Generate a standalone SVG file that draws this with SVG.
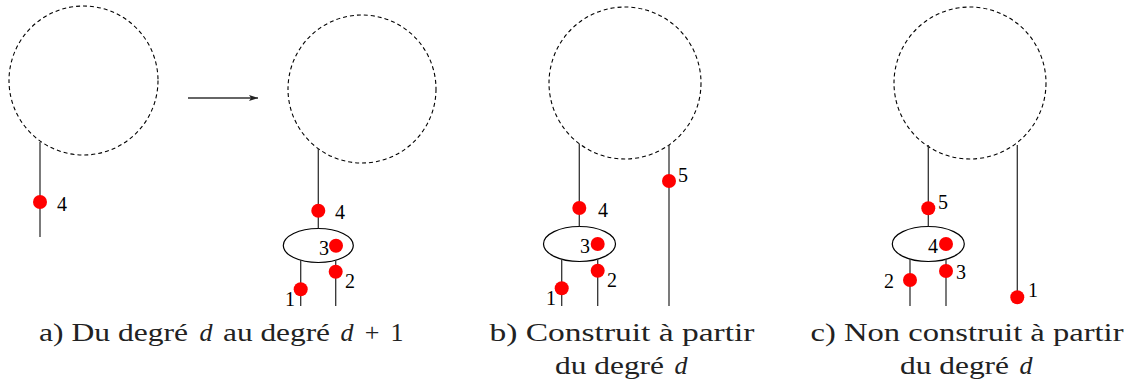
<svg xmlns="http://www.w3.org/2000/svg" width="1132" height="385" viewBox="0 0 1132 385">
<style>
.bound{fill:none;stroke:#000;stroke-width:1.1;stroke-dasharray:4 3}
.wire{fill:none;stroke:#333;stroke-width:1.3}
.node{fill:none;stroke:#000;stroke-width:1.2}
.dot{fill:#ff0000}
.num{font-family:'Liberation Serif','Times New Roman',serif;font-size:20px;fill:#000}
.cap{font-family:'Liberation Serif','Times New Roman',serif;font-size:26px;fill:#222}
.it{font-style:italic}
.mid{text-anchor:middle}
</style>
<defs>
<marker id="ah" markerWidth="10" markerHeight="8" refX="9" refY="4" orient="auto" markerUnits="userSpaceOnUse">
<path d="M0,1 L9,4 L0,7 L2,4 Z" fill="#222"/>
</marker>
</defs>
<rect width="1132" height="385" fill="#fff"/>

<g id="panel-a-left">
<circle class="bound" cx="83.5" cy="80.5" r="74.5"/>
</g>
<g id="panel-a-right">
<circle class="bound" cx="362" cy="89" r="74"/>
<ellipse class="node" cx="318.3" cy="245.5" rx="35" ry="17"/>
</g>
<g id="panel-b">
<circle class="bound" cx="625" cy="83" r="76"/>
<ellipse class="node" cx="579.5" cy="244" rx="36" ry="17.5"/>
</g>
<g id="panel-c">
<circle class="bound" cx="970" cy="83" r="76"/>
<ellipse class="node" cx="928.3" cy="244" rx="36" ry="17.5"/>
</g>

<g id="connectors">
<line class="wire" x1="188" y1="98" x2="258" y2="98" marker-end="url(#ah)"/>
<line class="wire" x1="40" y1="142" x2="40" y2="237"/>
<line class="wire" x1="318.3" y1="149" x2="318.3" y2="228.5"/>
<line class="wire" x1="300.7" y1="260" x2="300.7" y2="306"/>
<line class="wire" x1="335.7" y1="260" x2="335.7" y2="306"/>
<line class="wire" x1="579.3" y1="144" x2="579.3" y2="226.5"/>
<line class="wire" x1="561.7" y1="259" x2="561.7" y2="306"/>
<line class="wire" x1="597.7" y1="259" x2="597.7" y2="306"/>
<line class="wire" x1="669" y1="145" x2="669" y2="306"/>
<line class="wire" x1="928.3" y1="145" x2="928.3" y2="226.5"/>
<line class="wire" x1="910" y1="259" x2="910" y2="306"/>
<line class="wire" x1="946" y1="259" x2="946" y2="306"/>
<line class="wire" x1="1017.3" y1="145" x2="1017.3" y2="297"/>
</g>

<g id="dots">
<circle class="dot" cx="40" cy="202" r="7"/>
<circle class="dot" cx="318.3" cy="210.7" r="7"/>
<circle class="dot" cx="336" cy="245.7" r="7"/>
<circle class="dot" cx="300.7" cy="289.3" r="7"/>
<circle class="dot" cx="335.7" cy="271.7" r="7"/>
<circle class="dot" cx="579.3" cy="208" r="7"/>
<circle class="dot" cx="597.7" cy="244" r="7"/>
<circle class="dot" cx="561.7" cy="288.3" r="7"/>
<circle class="dot" cx="597.7" cy="270.7" r="7"/>
<circle class="dot" cx="669" cy="181" r="7"/>
<circle class="dot" cx="928.3" cy="208.3" r="7"/>
<circle class="dot" cx="946" cy="244" r="7"/>
<circle class="dot" cx="910" cy="280" r="7"/>
<circle class="dot" cx="946" cy="271" r="7"/>
<circle class="dot" cx="1017.3" cy="297.3" r="7"/>
</g>

<g id="labels">
<text class="num" x="57" y="211">4</text>
<text class="num" x="335" y="219">4</text>
<text class="num" x="319" y="255">3</text>
<text class="num" x="285" y="306">1</text>
<text class="num" x="345" y="288">2</text>
<text class="num" x="598" y="217">4</text>
<text class="num" x="580" y="253">3</text>
<text class="num" x="546" y="305">1</text>
<text class="num" x="607" y="287">2</text>
<text class="num" x="678" y="182">5</text>
<text class="num" x="938" y="209">5</text>
<text class="num" x="928" y="253">4</text>
<text class="num" x="884" y="288">2</text>
<text class="num" x="956" y="279">3</text>
<text class="num" x="1028" y="297">1</text>
</g>

<g id="captions">
<text class="cap" x="39" y="341" textLength="149" lengthAdjust="spacingAndGlyphs">a) Du degré</text>
<text class="cap it mid" x="206" y="341">d</text>
<text class="cap" x="223" y="341" textLength="107" lengthAdjust="spacingAndGlyphs">au degré</text>
<text class="cap it mid" x="347" y="341">d</text>
<text class="cap mid" x="372" y="341">+</text>
<text class="cap mid" x="397" y="341">1</text>

<text class="cap mid" x="622" y="341" textLength="265" lengthAdjust="spacingAndGlyphs">b) Construit à partir</text>
<text class="cap" x="555" y="374" textLength="109" lengthAdjust="spacingAndGlyphs">du degré</text>
<text class="cap it mid" x="681" y="374">d</text>

<text class="cap mid" x="967" y="341" textLength="313" lengthAdjust="spacingAndGlyphs">c) Non construit à partir</text>
<text class="cap" x="900" y="374" textLength="109" lengthAdjust="spacingAndGlyphs">du degré</text>
<text class="cap it mid" x="1026" y="374">d</text>
</g>
</svg>
